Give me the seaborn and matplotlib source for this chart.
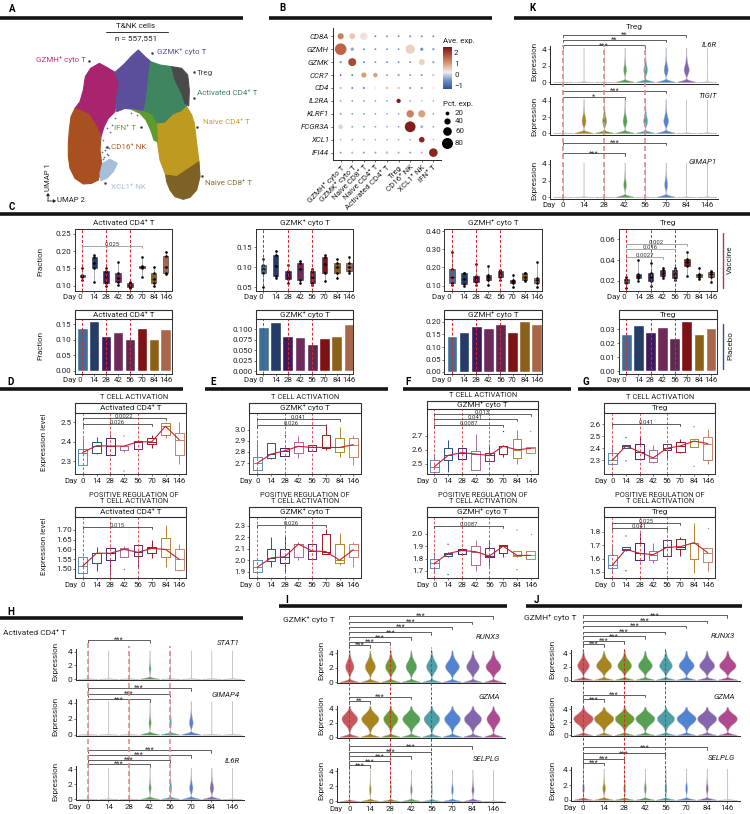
import numpy as np
import pandas as pd
import seaborn as sns
import matplotlib.pyplot as plt
from matplotlib.colors import LinearSegmentedColormap
from matplotlib.patches import Rectangle
from matplotlib.ticker import FormatStrFormatter

W, H = 750, 814
DAYS = ['0', '14', '28', '42', '56', '70', '84', '146']
DAY_IDX = list(range(8))

# ---- panel A: cluster outlines in UMAP space
UMAP_CLUSTERS = {
    'GZMH': ('#A8246F', [(298, 190), (322, 203), (345, 217), (358, 250), (350, 290), (345, 335), (325, 355), (312, 380), (303, 410), (290, 380), (265, 342), (225, 325), (240, 305), (250, 270), (256, 230), (272, 205)]),
    'CD16': ('#A8501F', [(225, 325), (265, 342), (290, 380), (303, 410), (300, 450), (305, 490), (300, 520), (295, 540), (275, 550), (250, 552), (225, 535), (210, 505), (205, 470), (205, 430), (208, 390), (213, 350)]),
    'GZMK': ('#5B4F9B', [(415, 150), (435, 170), (452, 185), (447, 220), (442, 270), (437, 310), (430, 335), (400, 328), (375, 325), (350, 335), (350, 290), (358, 250), (345, 217), (372, 193), (395, 168)]),
    'ACT': ('#3F8560', [(452, 185), (480, 195), (515, 200), (525, 240), (545, 280), (560, 320), (545, 335), (520, 345), (495, 370), (470, 372), (455, 345), (430, 335), (437, 310), (442, 270), (447, 220)]),
    'TREG': ('#4A4A4A', [(515, 200), (545, 205), (563, 225), (568, 270), (566, 318), (555, 310), (545, 280), (525, 240)]),
    'N4': ('#BF9A20', [(560, 320), (575, 345), (583, 370), (590, 430), (597, 485), (560, 510), (530, 530), (497, 525), (480, 480), (472, 425), (470, 372), (495, 370), (520, 345), (545, 335)]),
    'N8': ('#7D6125', [(597, 485), (600, 530), (590, 570), (570, 592), (550, 598), (525, 590), (510, 570), (500, 545), (497, 525), (530, 530), (560, 510)]),
    'IFN': ('#5F9A2E', [(395, 328), (430, 335), (455, 345), (470, 372), (472, 425), (462, 420), (452, 390), (438, 360), (420, 340)]),
    'XCL1': ('#A4BEDC', [(308, 490), (330, 478), (352, 490), (340, 515), (320, 535), (303, 542), (300, 520)]),
}
UMAP_SPECKLE_X = [310, 318, 305, 325, 312, 300, 330, 322, 316, 335, 345, 308, 320, 328, 392, 410]
UMAP_SPECKLE_Y = [420, 440, 455, 465, 470, 415, 395, 385, 450, 375, 355, 478, 462, 445, 340, 345]

UMAP_LABELS = [
    ('GZMH⁺ cyto T', 258, 180, 'right', '#B8327F', 268, 183),
    ('GZMK⁺ cyto T', 472, 155, 'left', '#5B4F9B', 455, 160),
    ('Treg', 590, 218, 'left', '#444444', 583, 216),
    ('Activated CD4⁺ T', 590, 280, 'left', '#3F8560', 581, 295),
    ('Naive CD4⁺ T', 610, 365, 'left', '#C9A030', 591, 380),
    ('IFN⁺ T', 408, 383, 'right', '#6A9A30', 422, 382),
    ('CD16⁺ NK', 333, 441, 'left', '#B05A2A', 322, 441),
    ('XCL1⁺ NK', 333, 560, 'left', '#A8C0DC', 316, 549),
    ('Naive CD8⁺ T', 615, 548, 'left', '#8A6E2A', 607, 527),
]

# ---- panel B: dot plot
DOT_GENES = ['CD8A', 'GZMH', 'GZMK', 'CCR7', 'CD4', 'IL2RA', 'KLRF1', 'FCGR3A', 'XCL1', 'IFI44']
DOT_CELLS = ['GZMH⁺ cyto T', 'GZMK⁺ cyto T', 'Naive CD8⁺ T', 'Naive CD4⁺ T', 'Activated CD4⁺ T', 'Treg', 'CD16⁺ NK', 'XCL1⁺ NK', 'IFN⁺ T']
DOT_EXPR = [
    [1.3, 0.6, 0.35, -0.8, -0.8, -0.7, -0.4, -0.5, -0.5],
    [1.6, -0.3, -0.8, -0.7, -0.6, -0.6, 0.5, -0.5, -0.4],
    [-0.5, 1.9, -0.8, -0.7, -0.6, -0.7, -0.6, 0.5, -0.3],
    [-1.0, -0.8, 1.0, 1.0, -0.2, -0.3, -0.7, -0.6, 0.0],
    [-0.4, -0.8, -0.9, 0.2, 0.6, 0.6, -0.8, -0.5, 0.2],
    [-0.5, -0.6, -0.6, -0.5, -0.3, 2.4, -0.5, -0.1, -0.4],
    [-0.2, -0.5, -0.5, -0.5, -0.4, -0.4, 1.3, 1.0, -0.4],
    [0.05, -0.4, -0.4, -0.4, -0.3, -0.4, 2.4, -0.2, -0.3],
    [-0.2, -0.4, -0.4, -0.3, -0.3, -0.3, -0.3, 2.3, -0.2],
    [-0.4, -0.2, -0.4, -0.4, -0.1, -0.3, -0.4, -0.2, 2.3],
]
DOT_PCT = [
    [40, 38, 50, 3, 3, 3, 6, 5, 5],
    [85, 18, 3, 3, 3, 3, 65, 15, 8],
    [7, 55, 4, 3, 4, 3, 4, 38, 8],
    [3, 4, 32, 25, 8, 8, 3, 4, 10],
    [3, 4, 4, 8, 10, 8, 3, 4, 8],
    [1, 2, 2, 2, 4, 24, 1, 2, 1],
    [8, 3, 3, 2, 2, 2, 50, 48, 3],
    [26, 4, 3, 3, 3, 3, 78, 14, 4],
    [2, 3, 2, 2, 2, 2, 3, 35, 2],
    [4, 6, 5, 5, 10, 5, 5, 6, 60],
]
PCT_LEGEND = [20, 40, 60, 80]

# ---- panel C: vaccine cohort samples per day
FRAC_ACT = [[.118, .125, .128, .131, .152], [.11, .15, .165, .182, .19], [.10, .108, .128, .142, .15], [.103, .112, .122, .136, .168],
            [.093, .097, .102, .108, .112], [.126, .150, .154, .157, .182], [.098, .109, .12, .138, .155], [.133, .136, .153, .187, .198]]
FRAC_GZMK = [[.05, .087, .095, .106, .122], [.073, .078, .103, .131, .14], [.062, .071, .08, .091, .106], [.06, .068, .095, .112, .115],
             [.056, .06, .076, .092, .095], [.066, .087, .108, .125, .13], [.074, .085, .102, .112, .122], [.085, .09, .102, .112, .125]]
FRAC_GZMH = [[.105, .117, .15, .19, .285], [.10, .11, .135, .168, .17], [.105, .118, .135, .155, .22], [.105, .13, .145, .16, .205],
             [.13, .145, .165, .18, .185], [.09, .115, .125, .133, .16], [.125, .131, .15, .168, .17], [.095, .115, .13, .14, .232]]
FRAC_TREG = [[.0135, .018, .0205, .022, .024], [.020, .0225, .0245, .0265, .040], [.0155, .02, .024, .028, .037], [.023, .025, .028, .0305, .032],
             [.021, .023, .027, .031, .032], [.0245, .034, .038, .0408, .048], [.0215, .0235, .0255, .027, .032], [.019, .024, .0265, .029, .030]]

# placebo cohort
BAR_ACT = [.138, .16, .112, .125, .101, .138, .104, .135]
BAR_GZMK = [.105, .117, .085, .081, .065, .079, .083, .113]
BAR_GZMH = [.145, .16, .183, .176, .192, .16, .203, .192]
BAR_TREG = [.0265, .033, .028, .0315, .024, .0362, .027, .0308]

# ---- panels D-G: module scores, five numbers per day + stray points
SCORE_D1 = [[2.28, 2.28, 2.345, 2.362, 2.42], [2.34, 2.344, 2.38, 2.397, 2.425], [2.33, 2.333, 2.378, 2.418, 2.44], [2.35, 2.356, 2.378, 2.38, 2.38],
            [2.363, 2.363, 2.40, 2.406, 2.41], [2.37, 2.39, 2.40, 2.418, 2.435], [2.42, 2.435, 2.48, 2.498, 2.5], [2.285, 2.333, 2.41, 2.444, 2.5]]
OUT_D1 = [(3, 2.43), (3, 2.25)]
SCORE_D2 = [[1.47, 1.476, 1.513, 1.562, 1.565], [1.49, 1.531, 1.58, 1.583, 1.61], [1.47, 1.547, 1.58, 1.605, 1.61], [1.56, 1.562, 1.60, 1.608, 1.615],
            [1.51, 1.565, 1.585, 1.62, 1.625], [1.555, 1.58, 1.605, 1.614, 1.65], [1.51, 1.559, 1.60, 1.657, 1.725], [1.49, 1.495, 1.548, 1.60, 1.63]]
OUT_D2 = [(3, 1.50)]
SCORE_E1 = [[2.63, 2.634, 2.70, 2.757, 2.9], [2.735, 2.748, 2.78, 2.877, 2.88], [2.76, 2.766, 2.81, 2.838, 2.84], [2.745, 2.787, 2.85, 2.886, 2.94],
            [2.81, 2.811, 2.84, 2.859, 2.86], [2.82, 2.832, 2.84, 2.952, 3.05], [2.75, 2.796, 2.84, 2.922, 3.02], [2.68, 2.754, 2.865, 2.922, 2.95]]
OUT_E1 = [(2, 2.955)]
SCORE_E2 = [[1.88, 1.9, 1.94, 2.0, 2.0], [1.94, 1.99, 2.02, 2.10, 2.2], [1.9, 1.98, 2.03, 2.10, 2.22], [2.0, 2.03, 2.14, 2.14, 2.16],
            [2.0, 2.01, 2.08, 2.14, 2.15], [2.05, 2.05, 2.075, 2.225, 2.27], [1.955, 1.98, 2.0, 2.145, 2.235], [1.945, 2.025, 2.09, 2.14, 2.16]]
OUT_E2 = []
SCORE_F1 = [[2.44, 2.44, 2.48, 2.53, 2.56], [2.44, 2.53, 2.56, 2.615, 2.67], [2.535, 2.535, 2.58, 2.61, 2.615], [2.455, 2.455, 2.57, 2.595, 2.715],
            [2.52, 2.52, 2.56, 2.58, 2.64], [2.55, 2.57, 2.625, 2.63, 2.635], [2.5, 2.54, 2.60, 2.675, 2.74], [2.58, 2.58, 2.61, 2.617, 2.62]]
OUT_F1 = [(5, 2.73), (7, 2.73), (7, 2.45)]
SCORE_F2 = [[1.69, 1.72, 1.76, 1.80, 1.85], [1.81, 1.818, 1.84, 1.847, 1.85], [1.83, 1.836, 1.865, 1.88, 1.885], [1.70, 1.746, 1.855, 1.903, 1.95],
            [1.74, 1.81, 1.82, 1.882, 1.95], [1.81, 1.842, 1.90, 1.906, 1.91], [1.815, 1.818, 1.825, 1.858, 1.86], [1.80, 1.80, 1.825, 1.86, 1.86]]
OUT_F2 = [(1, 1.915), (1, 1.67), (6, 2.03), (6, 1.71), (7, 2.0)]
SCORE_G1 = [[2.26, 2.267, 2.30, 2.365, 2.42], [2.40, 2.405, 2.42, 2.43, 2.43], [2.31, 2.31, 2.37, 2.44, 2.50], [2.28, 2.283, 2.32, 2.39, 2.43],
            [2.32, 2.39, 2.40, 2.44, 2.44], [2.365, 2.37, 2.42, 2.45, 2.475], [2.41, 2.415, 2.46, 2.48, 2.48], [2.27, 2.30, 2.44, 2.495, 2.565]]
OUT_G1 = [(1, 2.49), (1, 2.295), (6, 2.58), (6, 2.25)]
SCORE_G2 = [[1.49, 1.53, 1.55, 1.625, 1.70], [1.66, 1.665, 1.67, 1.685, 1.69], [1.58, 1.59, 1.64, 1.72, 1.79], [1.565, 1.59, 1.63, 1.66, 1.72],
            [1.62, 1.62, 1.685, 1.74, 1.75], [1.62, 1.67, 1.69, 1.745, 1.765], [1.49, 1.60, 1.72, 1.72, 1.87], [1.51, 1.575, 1.645, 1.68, 1.68]]
OUT_G2 = [(1, 1.77), (1, 1.51), (7, 1.83)]

# ---- panels H-K: share of expressing cells per day, and the expression levels they sit at
EXPR_LEVELS = [.8, 1.0, 1.2, 1.4, 1.6, 1.8, 2.0, 2.2, 2.4, 2.6, 2.8, 3.0, 3.2, 3.4, 3.6, 3.8, 4.0, 4.2, 4.4]
W_MID = [1, 2, 3, 5, 7, 9, 10, 10, 10, 9, 7, 6, 4, 3, 2, 2, 1, 1, 1]
W_HIGH = [1, 1, 2, 3, 4, 6, 8, 9, 10, 10, 10, 9, 7, 5, 4, 2, 1, 1, 1]
W_LOW = [3, 5, 8, 10, 10, 9, 7, 5, 4, 3, 2, 2, 1, 1, 1, 1, 1, 1, 0]

H_STAT1 = [.02, .02, .02, .28, .03, .03, .03, .03]
H_GIMAP4 = [.02, .02, .02, .3, .26, .4, .03, .03]
H_IL6R = [.02, .03, .02, .3, .3, .38, .4, .03]
I_RUNX3 = [.6, .65, .66, .66, .66, .72, .7, .74]
I_GZMA = [.74, .76, .72, .76, .74, .74, .76, .7]
I_SELPLG = [.12, .26, .2, .26, .2, .26, .3, .03]
J_RUNX3 = [.68, .74, .72, .72, .7, .74, .74, .76]
J_GZMA = [.8, .82, .78, .78, .76, .78, .78, .78]
J_SELPLG = [.25, .34, .28, .28, .28, .28, .3, .03]
K_IL6R = [.01, .03, .01, .34, .4, .42, .48, .03]
K_TIGIT = [.01, .42, .42, .42, .42, .46, .03, .03]
K_GIMAP1 = [.01, .02, .01, .34, .01, .36, .02, .02]

# colours
PAL_C = ['#3F6F96', '#253C68', '#3F1A5C', '#6E2A5A', '#5E2A52', '#7D1217', '#8B611A', '#A9674A']
PAL_BOX = ['#5A8EB8', '#2E4F86', '#4A2070', '#A86E9A', '#6B2A60', '#9A1C22', '#B4862E', '#C8846A']
PAL_VIOLIN = ['#C9565A', '#A8841F', '#6E9A2A', '#55A052', '#4C9FA6', '#5282D2', '#8465AE', '#AF4A90']
RED = '#D8262C'
DARK = '#2E2E2E'
DOT_CMAP = LinearSegmentedColormap.from_list('ave', ['#2F55A0', '#7090C4', '#F2EFEA', '#D9A07C', '#B4573A', '#7A1518'])
DOT_NORM = plt.Normalize(-1.3, 2.5)

sns.set_theme(style='ticks')
plt.rcParams['font.family'] = ['Roboto', 'DejaVu Sans']
plt.rcParams['axes.linewidth'] = 0.7
plt.rcParams['xtick.major.width'] = 0.5
plt.rcParams['ytick.major.width'] = 0.5
plt.rcParams['text.color'] = '#222222'

fig = plt.figure(figsize=(W / 100, H / 100), dpi=100)


def px_axes(x0, top, x1, bot):
    ax = fig.add_axes([x0 / W, 1 - bot / H, (x1 - x0) / W, (bot - top) / H])
    ax.set_facecolor('none')
    return ax


ov = px_axes(0, 0, W, H)
ov.set_xlim(0, W)
ov.set_ylim(H, 0)
ov.axis('off')
ov.set_zorder(20)


def label(x, y, s, size=5.7, ha='center', **kw):
    ov.text(x, y, s, fontsize=size, ha=ha, va='center', **kw)


def sec_bar(x0, x1, y):
    ov.plot([x0, x1], [y, y], color='#141414', lw=2.6, solid_capstyle='butt')


def fit_x(ax, x0, x1, day0, day146):
    sp = (day146 - day0) / 7
    ax.set_xlim((x0 - day0) / sp, (x1 - day0) / sp)


def fit_y(ax, top, bot, val, val_px, k):
    ax.set_ylim(val - (bot - val_px) / k, val + (val_px - top) / k)


def bracket(ax, top, bot, end, y, text, size=4.3, color='#444444', down=2, up=1.5):
    hgt = bot - top
    f = (bot - y) / hgt
    d = down / hgt
    ax.plot([0, 0, end, end], [f - d, f, f, f - d], color=color, lw=0.6, clip_on=False,
            transform=ax.get_xaxis_transform(), zorder=6)
    ax.text(end / 2, f + up / hgt, text, fontsize=size, ha='center', va='center', color='#333333',
            transform=ax.get_xaxis_transform(), clip_on=False, zorder=7)


def style_ticks(ax, yticks, fmt, show_x=True, size=5.8):
    ax.set_xticks(DAY_IDX)
    ax.set_xticklabels(DAYS if show_x else [])
    ax.set_yticks(yticks)
    ax.yaxis.set_major_formatter(FormatStrFormatter(fmt))
    ax.tick_params(axis='x', length=1.5 if show_x else 0, pad=1, labelsize=5.7, color='#444444', labelcolor='#222222')
    ax.tick_params(axis='y', length=1.5, pad=1, labelsize=size, color='#444444', labelcolor='#222222')
    ax.set_xlabel('')
    ax.set_ylabel('')


def long_table(groups):
    days = [d for d, g in zip(DAY_IDX, groups) for _ in g]
    vals = [v for g in groups for v in g]
    return pd.DataFrame({'day': days, 'val': vals})


# ---------------- A
um = px_axes(0, 0, 260, 210)
um.set_xlim(0, 780)
um.set_ylim(630, 0)
um.axis('off')
for name, (col, pts) in UMAP_CLUSTERS.items():
    um.fill([p[0] for p in pts], [p[1] for p in pts], color=col, lw=0.8)
sns.scatterplot(x=UMAP_SPECKLE_X, y=UMAP_SPECKLE_Y, s=1.5, color='#6A6A9A', linewidth=0, ax=um, legend=False)
um.set_xlim(0, 780)
um.set_ylim(630, 0)
for txt, x, y, ha, col, dx, dy in UMAP_LABELS:
    label(x / 3, y / 3, txt, size=5.8, ha=ha, color=col)
    ov.plot(dx / 3, dy / 3, 'o', ms=1.8, color='#3A3A3A', mew=0)
label(136, 26, 'T&NK cells', size=5.9)
ov.plot([106, 168], [32, 32], color='#333333', lw=0.7)
label(136, 38, 'n = 557,551', size=5.9)
label(47.5, 177, 'UMAP 1', size=5.6, rotation=90)
label(57, 200, 'UMAP 2', size=5.6, ha='left')
ov.annotate('', xy=(48, 193), xytext=(48, 201), arrowprops=dict(arrowstyle='-|>,head_width=0.08,head_length=0.12', lw=0.6, color='#222222', shrinkA=0, shrinkB=0))
ov.annotate('', xy=(56, 201), xytext=(47.7, 201), arrowprops=dict(arrowstyle='-|>,head_width=0.08,head_length=0.12', lw=0.6, color='#222222', shrinkA=0, shrinkB=0))

# ---------------- B
dots = pd.DataFrame({
    'col': [c for _ in DOT_GENES for c in range(len(DOT_CELLS))],
    'row': [r for r in range(len(DOT_GENES)) for _ in DOT_CELLS],
    'expr': np.ravel(DOT_EXPR),
    'pct': np.ravel(DOT_PCT),
})
dots['area'] = ((1.4 + 0.12 * dots['pct']) * 0.72) ** 2
bx = px_axes(333, 28, 441, 160)
sns.scatterplot(data=dots, x='col', y='row', hue='expr', palette=DOT_CMAP, hue_norm=DOT_NORM,
                s=dots['area'], linewidth=0, legend=False, ax=bx, clip_on=False)
bx.set_xlim(-0.66, 8.66)
bx.set_ylim(9.57, -0.64)
sns.despine(ax=bx)
bx.set_xticks(range(len(DOT_CELLS)))
bx.set_xticklabels(DOT_CELLS, rotation=45, ha='right', rotation_mode='anchor')
bx.set_yticks(range(len(DOT_GENES)))
bx.set_yticklabels(DOT_GENES, style='italic')
bx.tick_params(length=1.5, pad=1.5, labelsize=5.7, labelcolor='#222222')
bx.set_xlabel('')
bx.set_ylabel('')

cb = px_axes(443, 47, 452, 89)
cb.imshow(np.linspace(-1.3, 2.5, 120)[:, None], aspect='auto', origin='lower', cmap=DOT_CMAP, norm=DOT_NORM, extent=(0, 1, -1.3, 2.5))
cb.set_xticks([])
cb.yaxis.tick_right()
cb.set_yticks([-1, 0, 1, 2])
cb.tick_params(axis='y', length=0, pad=1.5, labelsize=5.7, labelcolor='#222222')
for s in cb.spines.values():
    s.set_visible(False)
label(443, 41, 'Ave. exp.', size=5.7, ha='left')
label(443, 104, 'Pct. exp.', size=5.7, ha='left')
for pct, y in zip(PCT_LEGEND, [113, 121, 131, 143]):
    ov.scatter([447], [y], s=((1.4 + 0.12 * pct) * 0.72) ** 2, color='black', linewidth=0)
    label(455, y, str(pct), size=5.7, ha='left')

# ---------------- section bars and letters
sec_bar(0, 243, 17.5)
sec_bar(269, 492, 17.5)
sec_bar(514, 750, 17.5)
sec_bar(0, 750, 214)
sec_bar(0, 183, 388.5)
sec_bar(205, 388, 388.5)
sec_bar(403, 571, 388.5)
sec_bar(578, 750, 388.5)
sec_bar(0, 243, 618)
sec_bar(279, 507, 606)
sec_bar(526, 742, 606)
for letter, x, y in [('A', 12, 9), ('B', 282, 8), ('K', 532, 8), ('C', 12, 207), ('D', 11, 382), ('E', 213, 382),
                     ('F', 408, 382), ('G', 586, 382), ('H', 11, 612), ('I', 287, 600), ('J', 536, 600)]:
    label(x, y, letter, size=7, fontweight='bold', color='black')


# ---------------- C
def frac_box(x0, x1, day0, day146, samples, val, val_px, k, yticks, fmt, title, brackets=()):
    top, bot = 229, 291
    ax = px_axes(x0, top, x1, bot)
    tab = long_table(samples)
    sns.boxplot(data=tab, x='day', y='val', hue='day', palette=PAL_C, saturation=1, whis=100, width=0.45,
                linewidth=0.4, linecolor='#333333', fliersize=0, legend=False, ax=ax,
                whiskerprops=dict(color='#AAAAAA', linewidth=0.7), capprops=dict(linewidth=0))
    sns.stripplot(data=tab, x='day', y='val', color='black', size=1.9, jitter=False, linewidth=0, ax=ax)
    for d in (0, 2, 4):
        ax.axvline(d, color=RED, lw=0.7, ls=(0, (3, 2)), zorder=5)
    fit_x(ax, x0, x1, day0, day146)
    fit_y(ax, top, bot, val, val_px, k)
    style_ticks(ax, yticks, fmt)
    ax.set_xticklabels(['Day 0'] + DAYS[1:])
    ax.get_xticklabels()[0].set_ha('right')
    for s in ax.spines.values():
        s.set_color(DARK)
    for end, y, t in brackets:
        bracket(ax, top, bot, end, y, t, color='#999999')
    label((x0 + x1) / 2, 222.7, title, size=5.9)
    return ax


def frac_bar(x0, x1, day0, day146, heights, val_top, k, yticks, fmt, title):
    top, bot = 319.3, 374
    ax = px_axes(x0, top, x1, bot)
    sns.barplot(x=DAY_IDX, y=heights, hue=DAY_IDX, palette=PAL_C, saturation=1, width=0.88, legend=False, ax=ax)
    for d in (0, 2, 4):
        ax.axvline(d, color=RED, lw=0.7, ls=(0, (3, 2)), zorder=5)
    fit_x(ax, x0, x1, day0, day146)
    fit_y(ax, top, bot, 0, val_top, k)
    style_ticks(ax, yticks, fmt)
    ax.set_xticklabels(['Day 0'] + DAYS[1:])
    ax.get_xticklabels()[0].set_ha('right')
    for s in ax.spines.values():
        s.set_color(DARK)
    ov.add_patch(Rectangle((x0, 310.3), x1 - x0, 9, fc='white', ec=DARK, lw=0.8))
    label((x0 + x1) / 2, 314.8, title, size=5.9)
    return ax


frac_box(75, 171.7, 82.3, 165.7, FRAC_ACT, .25, 234, 344.7, [.10, .15, .20, .25], '%.2f', 'Activated CD4⁺ T', [(5, 245.7, '0.025')])
frac_box(256, 353.3, 263.3, 349, FRAC_GZMK, .15, 247.3, 400, [.05, .10, .15], '%.2f', 'GZMK⁺ cyto T')
frac_box(444.3, 542, 452, 536.7, FRAC_GZMH, .40, 231, 182, [.10, .20, .30, .40], '%.2f', 'GZMH⁺ cyto T')
frac_box(619, 716.7, 626.3, 711, FRAC_TREG, .06, 239.3, 1042, [.02, .04, .06], '%.2f', 'Treg',
         [(5, 243.7, '0.002'), (4, 249.3, '0.016'), (3, 257.3, '0.0027')])
frac_bar(75, 171.7, 82.3, 165.7, BAR_ACT, 370.7, 309, [0, .05, .10, .15], '%.2f', 'Activated CD4⁺ T')
frac_bar(256, 353.3, 263.3, 349, BAR_GZMK, 371, 417, [0, .025, .05, .075, .10], '%.3f', 'GZMK⁺ cyto T')
frac_bar(444.3, 542, 452, 536.7, BAR_GZMH, 372, 250, [0, .05, .10, .15, .20], '%.2f', 'GZMH⁺ cyto T')
frac_bar(619, 716.7, 626.3, 711, BAR_TREG, 371.3, 1400, [0, .01, .02, .03], '%.2f', 'Treg')
label(40, 261, 'Fraction', size=5.8, rotation=90)
label(40, 345.7, 'Fraction', size=5.8, rotation=90)
ov.plot([723.3, 723.3], [233, 287.7], color='#B8334F', lw=1)
ov.plot([723.3, 723.3], [324, 369], color='#3B4A9A', lw=1)
label(730, 260, 'Vaccine', size=5.8, rotation=90)
label(730, 346, 'Placebo', size=5.8, rotation=90)


# ---------------- D-G
def score_box(x0, x1, day0, day146, strip, bot, scores, strays, val, val_px, k, yticks, fmt, title, brackets):
    top = strip[1]
    ax = px_axes(x0, top, x1, bot)
    tab = long_table(scores)
    sns.boxplot(data=tab, x='day', y='val', hue='day', palette=PAL_BOX, saturation=1, whis=100, width=0.62,
                fill=False, linewidth=0.7, fliersize=0, legend=False, ax=ax, capprops=dict(linewidth=0))
    if strays:
        sns.stripplot(x=[s[0] for s in strays], y=[s[1] for s in strays], hue=[s[0] for s in strays],
                      palette=dict(zip(DAY_IDX, PAL_BOX)), size=1, jitter=False, linewidth=0, legend=False,
                      native_scale=True, ax=ax)
    sns.lineplot(x=DAY_IDX, y=[s[2] for s in scores], color='#C8202C', lw=0.8, ax=ax, zorder=5)
    for d in (0, 2, 4):
        ax.axvline(d, color='#DE4A50', lw=0.65, ls=(0, (3, 2)), zorder=4)
    fit_x(ax, x0, x1, day0, day146)
    fit_y(ax, top, bot, val, val_px, k)
    style_ticks(ax, yticks, fmt)
    for s in ax.spines.values():
        s.set_color(DARK)
    for end, y, t in brackets:
        bracket(ax, top, bot, end, y, t)
    ov.add_patch(Rectangle((x0, strip[0]), x1 - x0, strip[1] - strip[0], fc='white', ec=DARK, lw=0.8))
    label((x0 + x1) / 2, (strip[0] + strip[1]) / 2, title, size=5.9)
    label(day0 - 5, bot + 6.7, 'Day', size=5.7, ha='right')
    return ax


ROW1 = (403.3, 412.7)
ROW2 = (507.3, 516.7)
score_box(75, 186, 82.7, 179.3, ROW1, 474.3, SCORE_D1, OUT_D1, 2.5, 422.3, 195, [2.3, 2.4, 2.5], '%.1f', 'Activated CD4⁺ T',
          [(6, 418.3, '0.0022'), (5, 424.3, '0.026')])
score_box(75, 186, 82.7, 179.3, ROW2, 578.3, SCORE_D2, OUT_D2, 1.70, 530, 193.5, [1.50, 1.55, 1.60, 1.65, 1.70], '%.2f', 'Activated CD4⁺ T',
          [(5, 527.3, '0.015')])
score_box(249.3, 360.7, 257.3, 353.3, ROW1, 474.3, SCORE_E1, OUT_E1, 3.0, 429.7, 111, [2.7, 2.8, 2.9, 3.0], '%.1f', 'GZMK⁺ cyto T',
          [(6, 419.3, '0.041'), (5, 425, '0.026')])
score_box(249.3, 360.7, 257.3, 353.3, ROW2, 578.3, SCORE_E2, OUT_E2, 2.3, 525.7, 115, [1.9, 2.0, 2.1, 2.2, 2.3], '%.1f', 'GZMK⁺ cyto T',
          [(5, 525, '0.026')])
score_box(426.7, 537.7, 434.3, 530.7, (401, 409), 474.3, SCORE_F1, OUT_F1, 2.7, 435.7, 141, [2.5, 2.6, 2.7], '%.1f', 'GZMH⁺ cyto T',
          [(7, 414.3, '0.013'), (6, 419.3, '0.041'), (5, 425, '0.0087')])
score_box(426.7, 537.7, 434.3, 530.7, ROW2, 578.3, SCORE_F2, OUT_F2, 2.0, 533.7, 124, [1.7, 1.8, 1.9, 2.0], '%.1f', 'GZMH⁺ cyto T',
          [(5, 525.7, '0.0087')])
score_box(604.3, 715, 612.3, 707.7, ROW1, 474.3, SCORE_G1, OUT_G1, 2.6, 424.3, 120, [2.3, 2.4, 2.5, 2.6], '%.1f', 'Treg',
          [(5, 423.7, '0.041')])
score_box(604.3, 715, 612.3, 707.7, ROW2, 578.3, SCORE_G2, OUT_G2, 1.8, 532, 133.3, [1.5, 1.6, 1.7, 1.8], '%.1f', 'Treg',
          [(5, 522.7, '0.025'), (4, 527.7, '0.041')])

for x in (134, 305, 483, 660):
    label(x, 397.3 if x != 483 else 395.7, 'T CELL ACTIVATION', size=5.4)
    label(x, 495.7, 'POSITIVE REGULATION OF', size=5.4)
    label(x, 501.7, 'T CELL ACTIVATION', size=5.4)
label(44.3, 442.3, 'Expression level', size=5.8, rotation=90)
label(44.3, 546.7, 'Expression level', size=5.8, rotation=90)


# ---------------- H-K
def violin_table(fracs, weights):
    rows = []
    n = 1500
    for d, f in zip(DAY_IDX, fracs):
        vals = [0.0] * int(n * (1 - f))
        expressing = n * f
        for lev, w in zip(EXPR_LEVELS, weights):
            if w:
                vals += [lev] * max(1, int(expressing * w / sum(weights)))
        rows.append(pd.DataFrame({'day': d, 'val': vals}))
    return pd.concat(rows, ignore_index=True)


def violin_panel(x0, x1, day0, day146, fracs, weights, y4, y0, gene, gene_x, gene_y, lab_x, lab_y, brackets, show_x):
    k = (y0 - y4) / 4
    top = y4 - 0.45 * k
    bot = y0 + 0.15 * k
    ax = px_axes(x0, top, x1, bot)
    colours = {d: (c if f >= 0.1 else '#C4C4C4') for d, c, f in zip(DAY_IDX, PAL_VIOLIN, fracs)}
    sns.violinplot(data=violin_table(fracs, weights), x='day', y='val', hue='day', palette=colours, saturation=1,
                   density_norm='width', cut=0, inner=None, linewidth=0.3, linecolor='#BDBDBD', width=0.95,
                   bw_method=0.17, gridsize=250, legend=False, ax=ax)
    fit_x(ax, x0, x1, day0, day146)
    fit_y(ax, top, bot, 0, y0, k)
    style_ticks(ax, [0, 2, 4], '%d', show_x=show_x, size=6)
    sns.despine(ax=ax)
    for end, y, t in brackets:
        bracket(ax, top, bot, end, y, t, size=5.5, down=2.5, up=-0.2)
    label(gene_x, gene_y, gene, size=5.7, ha='right', style='italic')
    label(lab_x, lab_y, 'Expression', size=5.8, rotation=90)
    if show_x:
        label(x0 - 1, bot + 6.8, 'Day', size=5.7)
    return ax, top, bot


def red_lines(ax, top, bot, starts, colour, lw):
    hgt = bot - top
    for d, y in zip((0, 2, 4), starts):
        ax.axvline(d, ymin=0, ymax=(bot - y) / hgt, color=colour, lw=lw, ls=(0, (3, 1.8)), clip_on=False, zorder=6)


STARS = '***'
# H
violin_panel(76, 244, 87.7, 232, H_STAT1, W_LOW, 651.7, 679, 'STAT1', 240, 642.7, 55, 661.7, [(3, 640, STARS)], False)
violin_panel(76, 244, 87.7, 232, H_GIMAP4, W_LOW, 702.7, 734.7, 'GIMAP4', 240, 694.7, 55, 716.7,
             [(5, 688, STARS), (4, 694, STARS), (3, 699.3, STARS)], False)
a, t, b = violin_panel(76, 244, 87.7, 232, H_IL6R, W_LOW, 769.3, 799.3, 'IL6R', 240, 761, 55, 781.7,
                       [(6, 750, STARS), (5, 755, STARS), (4, 760, STARS), (3, 764, STARS)], True)
red_lines(a, t, b, (642, 646, 646), '#E58A8E', 1.2)
label(3.3, 633, 'Activated CD4⁺ T', size=6, ha='left')

# I
violin_panel(336.7, 505, 349.3, 493, I_RUNX3, W_MID, 653.3, 682.3, 'RUNX3', 500, 637, 321, 660,
             [(7, 616, STARS), (6, 621.7, STARS), (5, 626.7, STARS), (4, 632.3, STARS), (3, 637.3, STARS), (2, 642, STARS), (1, 645, STARS)], False)
violin_panel(336.7, 505, 349.3, 493, I_GZMA, W_HIGH, 708.7, 737, 'GZMA', 500, 697, 321, 715,
             [(3, 696.7, STARS), (1, 701, '**')], False)
a, t, b = violin_panel(336.7, 505, 349.3, 493, I_SELPLG, W_LOW, 771, 801.3, 'SELPLG', 500, 758.7, 321, 780,
                       [(6, 746.3, STARS), (4, 751.7, STARS), (3, 756.3, STARS), (2, 761.3, STARS), (1, 765.3, STARS)], True)
red_lines(a, t, b, (645, 647, 647), RED, 0.7)
label(283, 620, 'GZMK⁺ cyto T', size=6, ha='left')

# J
violin_panel(571.3, 740, 583, 727.3, J_RUNX3, W_MID, 653.3, 680, 'RUNX3', 735, 636, 552.7, 659,
             [(7, 615.3, STARS), (6, 620.7, STARS), (5, 625.7, STARS), (4, 631.7, STARS), (3, 636.3, STARS), (2, 641, STARS), (1, 644, STARS)], False)
violin_panel(571.3, 740, 583, 727.3, J_GZMA, W_HIGH, 709.3, 735.3, 'GZMA', 735, 696.7, 552.7, 715,
             [(3, 694.7, STARS), (1, 699.3, STARS)], False)
a, t, b = violin_panel(571.3, 740, 583, 727.3, J_SELPLG, W_LOW, 770, 800, 'SELPLG', 735, 758, 552.7, 780,
                       [(6, 747.3, STARS), (4, 753.3, STARS), (2, 759, STARS), (1, 762.7, STARS)], True)
red_lines(a, t, b, (644, 647, 647), RED, 0.7)
label(524, 618, 'GZMH⁺ cyto T', size=6, ha='left')

# K
violin_panel(550, 718, 563, 706.7, K_IL6R, W_LOW, 49.3, 82.3, 'IL6R', 717, 45, 534, 61.7,
             [(6, 34.7, '**'), (5, 40, '**'), (4, 45.3, STARS)], False)
violin_panel(550, 718, 563, 706.7, K_TIGIT, W_LOW, 100.7, 133.3, 'TIGIT', 717, 96, 534, 116.7,
             [(5, 91, STARS), (3, 96.7, '*')], False)
a, t, b = violin_panel(550, 718, 563, 706.7, K_GIMAP1, W_LOW, 164, 197.3, 'GIMAP1', 717, 162, 534, 180,
                       [(5, 142.7, STARS), (3, 153.3, STARS)], True)
red_lines(a, t, b, (45, 45, 45), '#E58A8E', 1.2)
label(634, 27, 'Treg', size=6)

fig.savefig('out.png', dpi=100)
plt.close(fig)
